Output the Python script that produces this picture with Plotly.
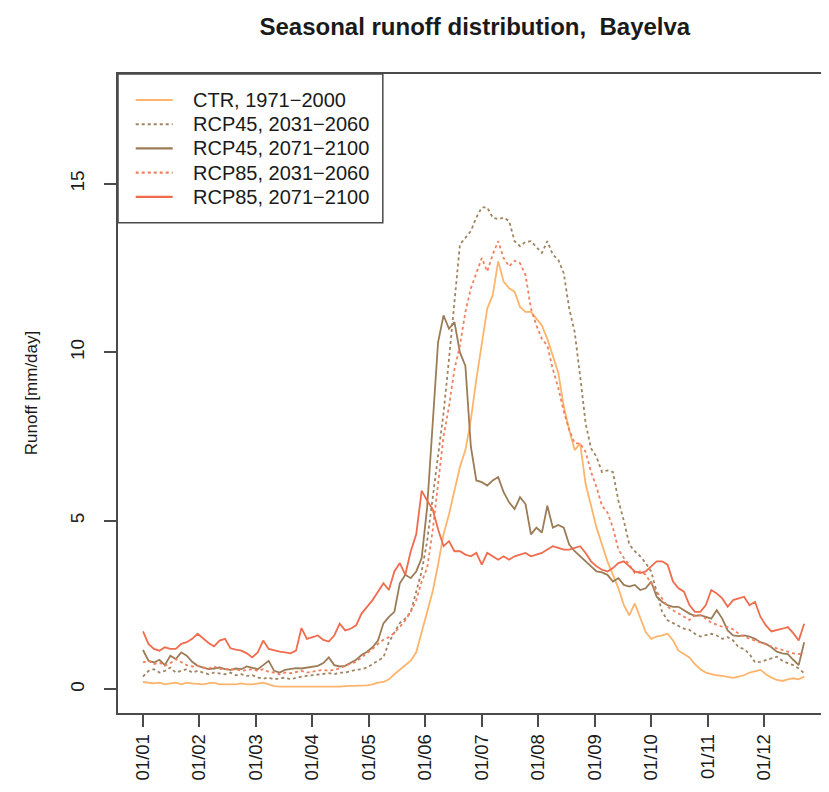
import plotly.graph_objects as go

# ---------------- data ----------------
# day-of-year sample positions (every 3rd day)
days = list(range(1, 365, 3))

month_labels = ["01/01", "01/02", "01/03", "01/04", "01/05", "01/06",
                "01/07", "01/08", "01/09", "01/10", "01/11", "01/12"]
month_ticks = [1, 32, 63, 94, 125, 156, 187, 218, 249, 280, 311, 342]

series_names = ["CTR, 1971\u22122000", "RCP45, 2031\u22122060", "RCP45, 2071\u22122100",
                "RCP85, 2031\u22122060", "RCP85, 2071\u22122100"]

ctr_1971_2000 = [
    0.22, 0.2, 0.18, 0.2, 0.15, 0.18, 0.2, 0.15, 0.2, 0.18,
    0.17, 0.15, 0.18, 0.2, 0.15, 0.15, 0.13, 0.15, 0.18, 0.15,
    0.15, 0.18, 0.2, 0.15, 0.1, 0.08, 0.08, 0.07, 0.08, 0.07,
    0.07, 0.08, 0.08, 0.07, 0.08, 0.07, 0.08, 0.1, 0.1, 0.1,
    0.1, 0.12, 0.15, 0.2, 0.22, 0.3, 0.45, 0.58, 0.7, 0.85,
    1.1, 1.7, 2.3, 2.9, 3.7, 4.6, 5.2, 5.9, 6.6, 7.1,
    8.0, 9.2, 10.3, 11.3, 11.7, 12.7, 12.1, 11.9, 11.8, 11.35,
    11.2, 11.2, 11.0, 10.8, 10.4, 9.9, 9.4, 8.4, 7.7, 7.1,
    7.3, 6.1, 5.4, 4.8, 4.3, 3.8, 3.4, 3.0, 2.5, 2.2,
    2.55, 2.1, 1.7, 1.5, 1.57, 1.6, 1.65, 1.45, 1.15, 1.05,
    0.95, 0.75, 0.6, 0.5, 0.45, 0.42, 0.4, 0.38, 0.34, 0.38,
    0.42, 0.5, 0.55, 0.58, 0.45, 0.35, 0.28, 0.25, 0.3, 0.33,
    0.3, 0.38,
]

rcp45_2031_2060 = [
    0.38, 0.55, 0.6, 0.5, 0.55, 0.65, 0.5, 0.55, 0.6, 0.5,
    0.55, 0.5, 0.45, 0.5, 0.48, 0.45, 0.5, 0.42, 0.45, 0.4,
    0.42, 0.35, 0.32, 0.35, 0.3, 0.32, 0.35, 0.3, 0.35, 0.38,
    0.4, 0.42, 0.45, 0.45, 0.48, 0.45, 0.5, 0.5, 0.55, 0.58,
    0.6, 0.65, 0.75, 0.85, 0.95, 1.4, 1.7, 1.97, 2.1, 2.3,
    2.9, 3.5, 4.4, 5.7, 7.0, 8.2, 9.8, 11.5, 13.2, 13.4,
    13.6, 14.0, 14.3, 14.3, 14.0, 13.95, 14.0, 13.9, 13.3, 13.15,
    13.28, 13.3, 13.14, 12.95, 13.3, 12.9, 12.75, 12.35, 11.3, 10.6,
    9.3, 7.9, 7.15, 6.9, 6.45, 6.5, 6.45, 5.6, 5.0, 4.3,
    4.1, 3.95, 3.75, 3.5, 2.9, 2.3, 2.05, 1.96, 1.88, 1.8,
    1.77, 1.65, 1.57, 1.62, 1.65, 1.6, 1.5, 1.55, 1.45, 1.25,
    1.2, 1.05, 0.8, 0.82, 0.88, 0.92, 0.97, 0.85, 0.78, 0.72,
    0.62, 0.48,
]

rcp45_2071_2100 = [
    1.17, 0.85, 0.8, 0.88, 0.72, 1.0, 0.9, 1.1, 1.0, 0.82,
    0.7, 0.65, 0.6, 0.62, 0.65, 0.6, 0.58, 0.62, 0.6, 0.68,
    0.65, 0.6, 0.72, 0.85, 0.55, 0.5, 0.58, 0.6, 0.63, 0.62,
    0.65, 0.66, 0.7, 0.78, 0.95, 0.72, 0.68, 0.7, 0.78, 0.88,
    1.02, 1.12, 1.25, 1.45, 1.96, 2.15, 2.3, 3.15, 3.4, 3.3,
    3.5, 3.9, 5.4, 7.8, 10.3, 11.1, 10.7, 10.9, 10.0, 9.6,
    7.2, 6.2, 6.15, 6.05, 6.2, 6.3, 5.85, 5.55, 5.35, 5.7,
    5.5, 4.6, 4.8, 4.65, 5.45, 4.8, 4.88, 4.8, 4.3, 4.1,
    3.95, 3.8, 3.68, 3.5, 3.47, 3.4, 3.2, 3.3, 3.1, 3.05,
    3.1, 2.95, 3.0, 3.2, 2.75, 2.6, 2.5, 2.45, 2.45, 2.35,
    2.25, 2.18, 2.2, 2.15, 2.1, 2.35, 2.1, 1.75, 1.6, 1.58,
    1.6, 1.57, 1.5, 1.4, 1.35, 1.25, 1.12, 1.07, 1.05, 0.88,
    0.72, 1.4,
]

rcp85_2031_2060 = [
    0.8, 0.85, 0.75, 0.8, 0.7, 0.78, 0.9, 0.8, 0.72, 0.68,
    0.7, 0.65, 0.62, 0.68, 0.6, 0.62, 0.58, 0.6, 0.55, 0.58,
    0.6, 0.55, 0.6, 0.52, 0.5, 0.45, 0.5, 0.48, 0.52, 0.55,
    0.5, 0.52, 0.55, 0.58, 0.55, 0.58, 0.62, 0.7, 0.75, 0.82,
    0.95, 1.07, 1.2, 1.35, 1.47, 1.55, 1.68, 1.85, 2.05, 2.3,
    2.65, 3.2, 3.6, 4.7, 6.1, 7.5, 8.4, 9.5, 10.2, 11.2,
    11.9, 12.35, 12.8, 12.4, 12.9, 13.3, 12.8, 12.55, 12.72, 12.65,
    12.3, 11.3, 10.8, 10.4, 10.2, 9.5, 8.95, 8.25, 7.7, 7.3,
    7.3, 7.05, 6.45, 6.0, 5.45, 5.25, 4.8, 4.15, 3.9, 3.7,
    3.45, 3.5, 3.4, 3.15, 2.9, 2.7, 2.45, 2.35, 2.25, 2.15,
    2.06, 2.2, 2.2, 2.1, 1.98, 1.92, 1.86, 1.85, 1.78, 1.65,
    1.57, 1.5, 1.45, 1.4, 1.35, 1.28, 1.22, 1.17, 1.12, 1.07,
    1.05, 1.07,
]

rcp85_2071_2100 = [
    1.72, 1.35, 1.2, 1.15, 1.25, 1.2, 1.2, 1.35, 1.4, 1.5,
    1.65, 1.5, 1.38, 1.28, 1.45, 1.5, 1.22, 1.18, 1.15, 1.07,
    0.95, 1.1, 1.45, 1.2, 1.15, 1.12, 1.1, 1.07, 1.15, 1.82,
    1.5, 1.55, 1.6, 1.47, 1.42, 1.6, 1.95, 1.75, 1.8, 1.9,
    2.25, 2.45, 2.65, 2.9, 3.15, 2.95, 3.5, 3.75, 3.4, 4.1,
    4.6, 5.9, 5.6, 5.35, 4.75, 4.25, 4.4, 4.1, 4.1, 4.0,
    3.95, 4.05, 3.7, 4.05, 3.95, 3.85, 3.95, 3.85, 3.95, 4.0,
    4.05, 3.95, 4.0, 4.05, 4.15, 4.25, 4.2, 4.15, 4.15, 4.2,
    4.25, 4.05, 3.8, 3.65, 3.55, 3.5, 3.6, 3.75, 3.8, 3.65,
    3.5, 3.45, 3.5, 3.65, 3.8, 3.8, 3.7, 3.2, 3.0, 2.9,
    2.5, 2.3, 2.3, 2.5, 2.95, 2.85, 2.7, 2.45, 2.65, 2.7,
    2.75, 2.5, 2.6, 2.15, 1.9, 1.72, 1.75, 1.8, 1.85, 1.67,
    1.45, 1.95,
]

series_values = [ctr_1971_2000, rcp45_2031_2060, rcp45_2071_2100,
                 rcp85_2031_2060, rcp85_2071_2100]

# ---------------- styling ----------------
colors = ["#FDB46C", "#A08460", "#9C7C56", "#F2805F", "#F06C4E"]
dashes = ["solid", "dot", "solid", "dot", "solid"]

FONT = "Liberation Sans, Arial, Helvetica, sans-serif"
AXIS_COL = "#4a4a4a"
TXT_COL = "#1a1a1a"

fig = go.Figure()
for name, vals, col, dash in zip(series_names, series_values, colors, dashes):
    fig.add_trace(go.Scatter(
        x=days, y=vals, name=name, mode="lines", showlegend=False,
        line=dict(color=col, width=1.8, dash=dash),
    ))

# ---- R-style legend box in the top-left corner of the plot region ----
fig.add_shape(type="rect", xref="paper", yref="paper",
              x0=0, x1=0.3767, y0=0.7673, y1=1,
              line=dict(color=AXIS_COL, width=1.5), fillcolor="white",
              layer="below")
legend_rows_y = [0.9593, 0.9214, 0.8836, 0.8457, 0.8078]
for name, col, dash, ry in zip(series_names, colors, dashes, legend_rows_y):
    fig.add_shape(type="line", xref="paper", yref="paper",
                  x0=0.0252, x1=0.0778, y0=ry, y1=ry,
                  line=dict(color=col, width=2.2, dash=dash))
    fig.add_annotation(text=name, showarrow=False, xref="paper", yref="paper",
                       x=0.1045, y=ry, xanchor="left", yanchor="middle",
                       font=dict(size=20, family=FONT, color=TXT_COL))

fig.update_layout(
    width=813, height=776,
    margin=dict(l=110.3, r=0, t=66, b=71, pad=0),
    paper_bgcolor="white", plot_bgcolor="white",
    font=dict(family=FONT, color=TXT_COL),
    title=dict(text="<b>Seasonal runoff distribution,  Bayelva</b>",
               font=dict(size=24, family=FONT, color=TXT_COL),
               xref="paper", x=0.5076, xanchor="center",
               yref="container", y=1 - 19 / 776, yanchor="middle"),
    showlegend=False,
    xaxis=dict(range=[-12.73, 373.24], showgrid=False, zeroline=False,
               showline=True, mirror=True, linecolor=AXIS_COL, linewidth=1.5,
               ticks="outside", ticklen=12, tickwidth=1.5, tickcolor=AXIS_COL,
               tickvals=month_ticks, ticktext=month_labels, tickangle=-90,
               tickfont=dict(size=18.5, family=FONT, color=TXT_COL)),
    yaxis=dict(range=[-0.7, 18.26], showgrid=False, zeroline=False,
               showline=True, linecolor=AXIS_COL, linewidth=1.5,
               ticks="outside", ticklen=12, tickwidth=1.5, tickcolor=AXIS_COL,
               tickvals=[0, 5, 10, 15], tickangle=-90, ticklabelstandoff=13,
               tickfont=dict(size=19, family=FONT, color=TXT_COL)),
)

fig.add_annotation(text="Runoff [mm/day]", textangle=-90, showarrow=False,
                   xref="paper", yref="paper", x=-0.1228, y=0.5,
                   xanchor="center", yanchor="middle",
                   font=dict(size=17, family=FONT, color=TXT_COL))

fig.write_html("out.html")
